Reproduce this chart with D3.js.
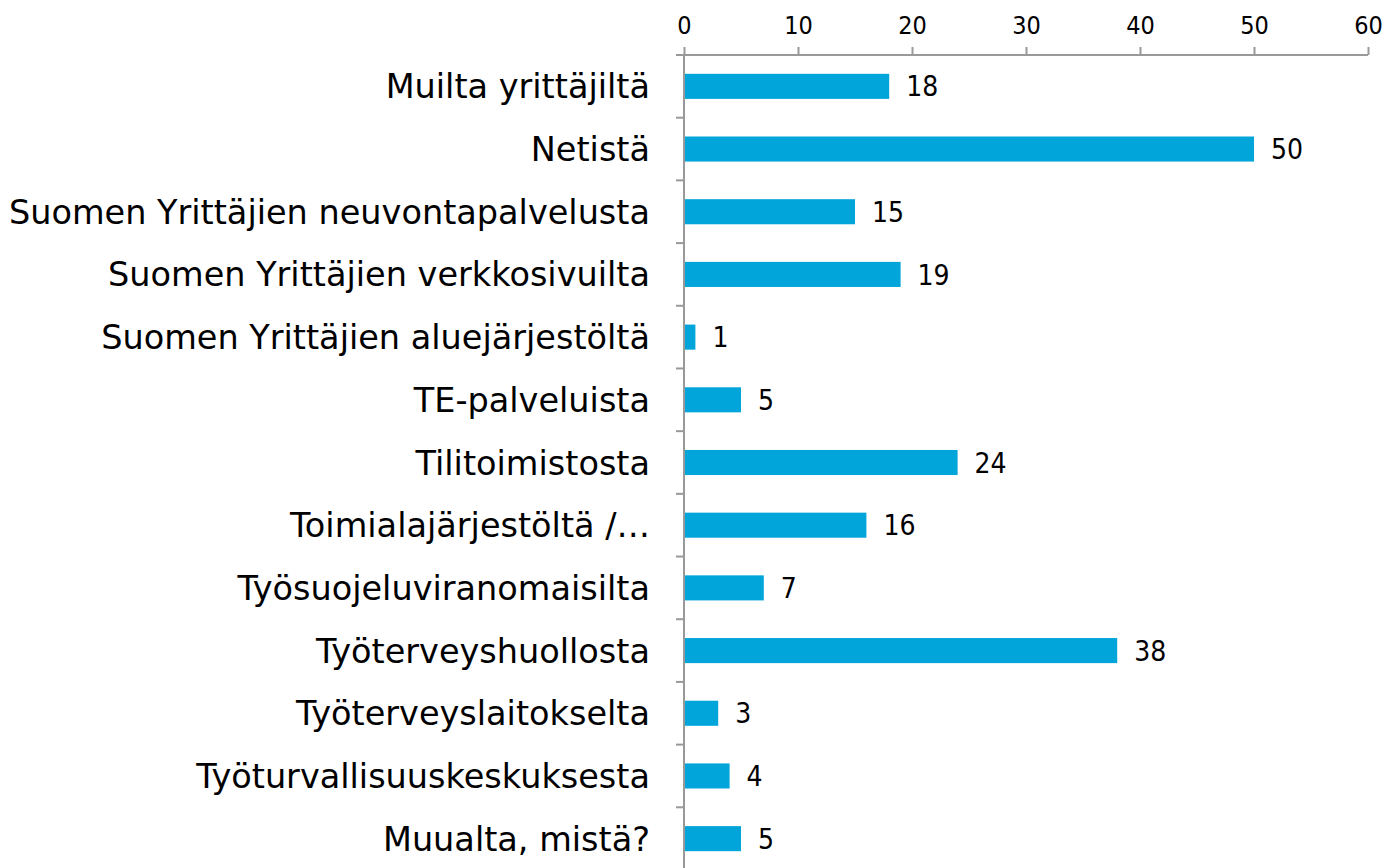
<!DOCTYPE html>
<html>
<head>
<meta charset="utf-8">
<script src="https://cdn.jsdelivr.net/npm/d3@7"></script>
<style>
  body { margin: 0; background: #fff; }
  svg { display: block; }
  text { font-family: "DejaVu Sans Condensed", "DejaVu Sans", sans-serif; fill: #000; }
</style>
</head>
<body>
<div id="chart"></div>
<script>
var categories = [
    "Muilta yrittäjiltä",
    "Netistä",
    "Suomen Yrittäjien neuvontapalvelusta",
    "Suomen Yrittäjien verkkosivuilta",
    "Suomen Yrittäjien aluejärjestöltä",
    "TE-palveluista",
    "Tilitoimistosta",
    "Toimialajärjestöltä /…",
    "Työsuojeluviranomaisilta",
    "Työterveyshuollosta",
    "Työterveyslaitokselta",
    "Työturvallisuuskeskuksesta",
    "Muualta, mistä?"
];
var values = [18, 50, 15, 19, 1, 5, 24, 16, 7, 38, 3, 4, 5];
var xTicks = [0, 10, 20, 30, 40, 50, 60];

var width = 1387, height = 868;
var x0 = 684, x1 = 1368, yTop = 55, yBottom = 870;

var svg = d3.select("#chart").append("svg")
    .attr("width", width)
    .attr("height", height);

var x = d3.scaleLinear().domain([0, 60]).range([x0, x1]);
var y = d3.scaleBand().domain(categories).range([yTop, yBottom]).paddingInner(0.6).paddingOuter(0.3);

// bars
svg.selectAll("rect.bar")
    .data(values)
    .enter()
    .append("rect")
    .attr("class", "bar")
    .attr("x", x(0))
    .attr("y", function (d, i) { return y(categories[i]); })
    .attr("width", function (d) { return x(d) - x(0); })
    .attr("height", y.bandwidth())
    .style("fill", "#02a5da");

// value labels
svg.selectAll("text.val")
    .data(values)
    .enter()
    .append("text")
    .attr("class", "val")
    .attr("x", function (d) { return x(d) + 17; })
    .attr("y", function (d, i) { return y(categories[i]) + y.bandwidth() / 2; })
    .attr("dy", "0.36em")
    .style("font-size", "28px")
    .text(function (d) { return d; });

// top axis
var xAxis = d3.axisTop(x).tickValues(xTicks).tickSize(8).tickPadding(13);
var gx = svg.append("g").attr("transform", "translate(0," + yTop + ")").call(xAxis);
gx.select(".domain").attr("d", "M" + (x0 - 8) + ",0H" + x1).style("stroke", "#999").style("stroke-width", 2);
gx.selectAll(".tick line").style("stroke", "#999").style("stroke-width", 2);
gx.selectAll(".tick text").style("font-size", "25px").style("font-family", "\"DejaVu Sans Condensed\", sans-serif");

// left axis, ticks at band boundaries
var bounds = categories.map(function (c) { return y(c) - y.step() * y.paddingInner() / 2; });
bounds.push(yBottom);
var gy = svg.append("g");
gy.append("line")
    .attr("x1", x0).attr("x2", x0)
    .attr("y1", yTop).attr("y2", height)
    .style("stroke", "#999").style("stroke-width", 2);
gy.selectAll("line.tk")
    .data(bounds)
    .enter()
    .append("line")
    .attr("class", "tk")
    .attr("x1", x0 - 8).attr("x2", x0)
    .attr("y1", function (d) { return d; }).attr("y2", function (d) { return d; })
    .style("stroke", "#999").style("stroke-width", 2);

// category labels
svg.selectAll("text.cat")
    .data(categories)
    .enter()
    .append("text")
    .attr("class", "cat")
    .attr("x", 650)
    .attr("y", function (d) { return y(d) + y.bandwidth() / 2; })
    .attr("dy", "0.36em")
    .attr("text-anchor", "end")
    .style("font-family", "\"DejaVu Sans\", sans-serif")
    .style("font-size", "33.5px")
    .text(function (d) { return d; });
</script>
</body>
</html>
